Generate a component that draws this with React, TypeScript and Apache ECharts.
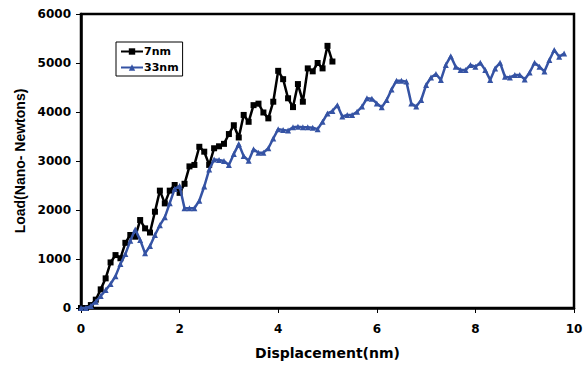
import React, { useEffect, useRef } from "react";
import * as echarts from "echarts";

const xTicks = [0, 2, 4, 6, 8, 10];
const yTicks = [0, 1000, 2000, 3000, 4000, 5000, 6000];

const disp7 = [
  0, 0.1, 0.2, 0.3, 0.4, 0.5, 0.6, 0.7, 0.8, 0.9, 1.0, 1.1, 1.2, 1.3, 1.4, 1.5, 1.6, 1.7, 1.8, 1.9,
  2.0, 2.1, 2.2, 2.3, 2.4, 2.5, 2.6, 2.7, 2.8, 2.9, 3.0, 3.1, 3.2, 3.3, 3.4, 3.5, 3.6, 3.7, 3.8, 3.9,
  4.0, 4.1, 4.2, 4.3, 4.4, 4.5, 4.6, 4.7, 4.8, 4.9, 5.0, 5.1,
];
const load7 = [
  0, 0, 60, 170, 380, 605, 930, 1080, 1015, 1330, 1490, 1455, 1795, 1625, 1540, 1965, 2395, 2135, 2395, 2510,
  2350, 2535, 2890, 2920, 3290, 3190, 2920, 3260, 3300, 3350, 3550, 3730, 3480, 3940, 3800, 4140, 4170, 3990, 3870, 4210,
  4840, 4670, 4280, 4100, 4570, 4210, 4890, 4830, 5000, 4890, 5350, 5030,
];

const disp33 = [
  0, 0.1, 0.2, 0.3, 0.4, 0.5, 0.6, 0.7, 0.8, 0.9, 1.0, 1.1, 1.2, 1.3, 1.4, 1.5, 1.6, 1.7, 1.8, 1.9,
  2.0, 2.1, 2.2, 2.3, 2.4, 2.5, 2.6, 2.7, 2.8, 2.9, 3.0, 3.1, 3.2, 3.3, 3.4, 3.5, 3.6, 3.7, 3.8, 3.9,
  4.0, 4.1, 4.2, 4.3, 4.4, 4.5, 4.6, 4.7, 4.8, 4.9, 5.0, 5.1, 5.2, 5.3, 5.4, 5.5, 5.6, 5.7, 5.8, 5.9,
  6.0, 6.1, 6.2, 6.3, 6.4, 6.5, 6.6, 6.7, 6.8, 6.9, 7.0, 7.1, 7.2, 7.3, 7.4, 7.5, 7.6, 7.7, 7.8, 7.9,
  8.0, 8.1, 8.2, 8.3, 8.4, 8.5, 8.6, 8.7, 8.8, 8.9, 9.0, 9.1, 9.2, 9.3, 9.4, 9.5, 9.6, 9.7, 9.8,
];
const load33 = [
  0, 0, 40, 130, 245, 365, 490, 650, 900, 1100, 1370, 1600, 1390, 1115, 1265, 1490, 1690, 1850, 2140, 2430,
  2490, 2035, 2035, 2035, 2190, 2480, 2825, 3030, 3020, 3000, 2920, 3145, 3345, 3100, 3005, 3240, 3170, 3170, 3260, 3460,
  3650, 3635, 3620, 3690, 3700, 3690, 3690, 3680, 3650, 3800, 3970, 4020, 4140, 3910, 3940, 3940, 4005, 4110, 4280, 4270,
  4175, 4095, 4245, 4460, 4640, 4640, 4620, 4175, 4110, 4245, 4550, 4705, 4775, 4655, 4960, 5140, 4925, 4855, 4855, 4960,
  4925, 5005, 4855, 4655, 4890, 5005, 4720, 4705, 4755, 4755, 4665, 4805, 5005, 4925, 4825, 5060, 5265, 5130, 5195,
];

const BLUE = "#3553A4";
const tickFont = "DejaVu Sans";

export default function App() {
  const ref = useRef<HTMLDivElement>(null);
  useEffect(() => {
    if (!ref.current) return;
    const chart = echarts.init(ref.current, null, { renderer: "svg" });
    const xStep = xTicks[1] - xTicks[0];
    const yStep = yTicks[1] - yTicks[0];
    chart.setOption({
      animation: false,
      backgroundColor: "#fff",
      grid: {
        left: 81,
        right: 14,
        top: 14,
        bottom: 57,
        show: true,
        borderColor: "#000",
        borderWidth: 2.5,
        backgroundColor: "transparent",
      },
      legend: {
        orient: "vertical",
        left: 116,
        top: 42,
        padding: [4, 4, 3, 4],
        itemGap: 5,
        itemWidth: 22,
        itemHeight: 8,
        borderColor: "#000",
        borderWidth: 1,
        backgroundColor: "#fff",
        textStyle: { fontFamily: tickFont, fontWeight: "bold", fontSize: 11, color: "#000", padding: [0, 0, 0, -4] },
        data: ["7nm", "33nm"],
      },
      xAxis: {
        type: "value",
        min: xTicks[0],
        max: xTicks[xTicks.length - 1],
        interval: xStep,
        name: "Displacement(nm)",
        nameLocation: "middle",
        nameGap: 38,
        nameTextStyle: { fontFamily: tickFont, fontWeight: "bold", fontSize: 14, color: "#000" },
        axisLine: { show: true, lineStyle: { color: "#000", width: 2.5 } },
        axisTick: { show: true, length: 5, lineStyle: { color: "#000", width: 1 } },
        axisLabel: {
          fontFamily: tickFont, fontWeight: "bold", fontSize: 12, color: "#000", margin: 15,
          formatter: (v: number) => String(v),
        },
        splitLine: { show: false },
      },
      yAxis: {
        type: "value",
        min: yTicks[0],
        max: yTicks[yTicks.length - 1],
        interval: yStep,
        name: "Load(Nano- Newtons)",
        nameLocation: "middle",
        nameGap: 46,
        nameTextStyle: { fontFamily: "Liberation Sans", fontWeight: "bold", fontSize: 14, color: "#000" },
        axisLine: { show: true, lineStyle: { color: "#000", width: 2.5 } },
        axisTick: { show: true, length: 5, lineStyle: { color: "#000", width: 1 } },
        axisLabel: {
          fontFamily: tickFont, fontWeight: "bold", fontSize: 12, color: "#000", margin: 10,
          formatter: (v: number) => String(v),
        },
        splitLine: { show: false },
      },
      series: [
        {
          name: "7nm",
          type: "line",
          data: disp7.map((d, i) => [d, load7[i]]),
          symbol: "rect",
          symbolSize: 6,
          lineStyle: { color: "#000", width: 2.5 },
          itemStyle: { color: "#000" },
          z: 2,
        },
        {
          name: "33nm",
          type: "line",
          data: disp33.map((d, i) => [d, load33[i]]),
          symbol: "triangle",
          symbolSize: 6,
          lineStyle: { color: BLUE, width: 2.5 },
          itemStyle: { color: BLUE },
          z: 3,
        },
      ],
    });
    return () => chart.dispose();
  }, []);
  return <div ref={ref} style={{ position: "fixed", left: 0, top: 0, width: 588, height: 365 }} />;
}
